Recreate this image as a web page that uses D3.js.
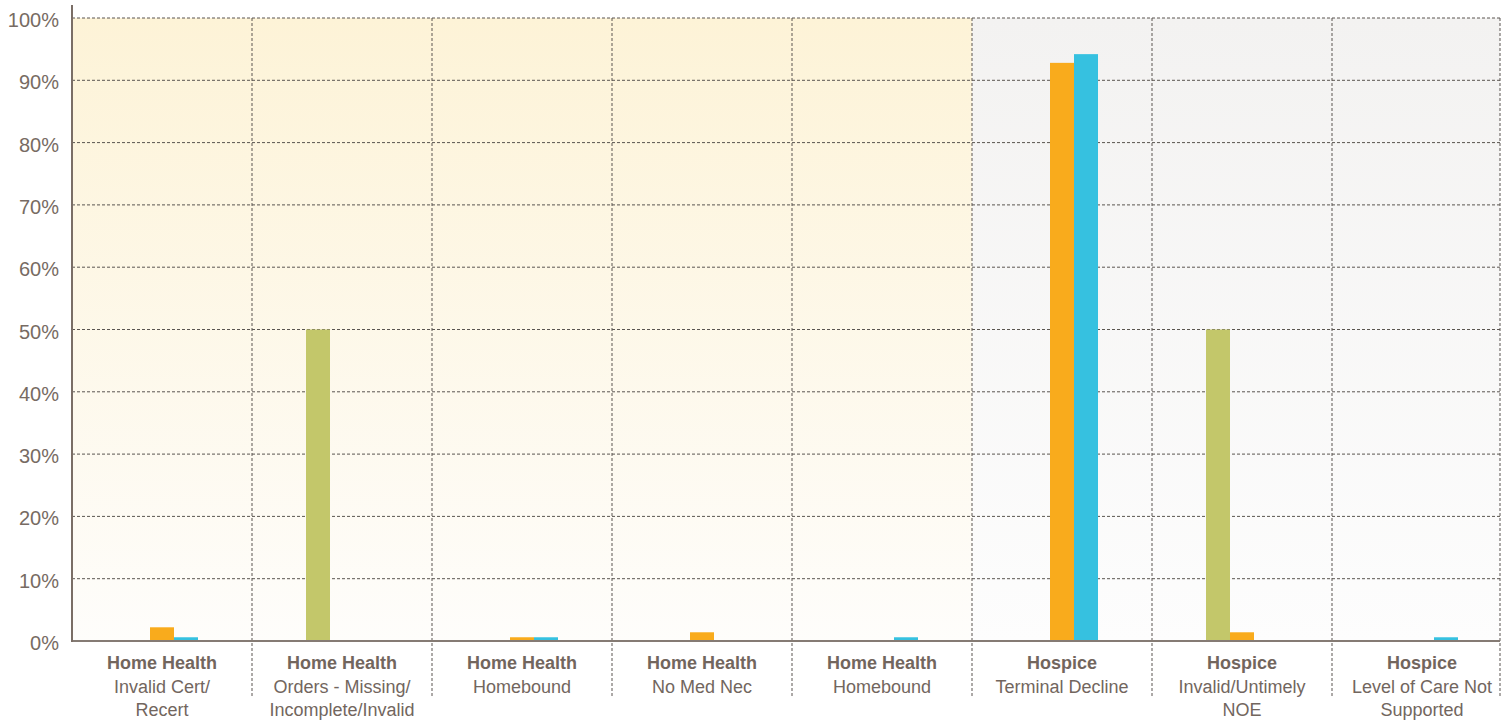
<!DOCTYPE html>
<html>
<head>
<meta charset="utf-8">
<script src="https://cdn.jsdelivr.net/npm/d3@7"></script>
<style>
  body { margin: 0; background: #ffffff; }
  text { font-family: "Liberation Sans", Arial, sans-serif; }
</style>
</head>
<body>
<svg id="chart"></svg>
<script>
// data
let groups = ["Home Health", "Home Health", "Home Health", "Home Health", "Home Health", "Hospice", "Hospice", "Hospice"]
let reasons = [["Invalid Cert/", "Recert"], ["Orders - Missing/", "Incomplete/Invalid"], ["Homebound"], ["No Med Nec"], ["Homebound"], ["Terminal Decline"], ["Invalid/Untimely", "NOE"], ["Level of Care Not", "Supported"]]
let series = ["green", "orange", "cyan"]
let greenValues = [0, 50, 0, 0, 0, 0, 50, 0]
let orangeValues = [2.2, 0, 0.6, 1.4, 0, 92.8, 1.4, 0]
let cyanValues = [0.6, 0, 0.6, 0, 0.6, 94.2, 0, 0.6]
let yTicks = [0, 10, 20, 30, 40, 50, 60, 70, 80, 90, 100]

let colors = { green: "#c3c76a", orange: "#f9ab1c", cyan: "#36c1e0" }

// set the dimensions and margins of the graph
let width = 1507
let height = 723
let plotLeft = 72
let plotTop = 18
let plotBottom = 641
let plotRight = 1500

let svg = d3.select("#chart")
    .attr("width", width)
    .attr("height", height)

let keys = d3.range(groups.length)

let x = d3.scaleBand()
    .domain(keys)
    .range([plotLeft, plotLeft + 180 * keys.length])
    .padding(0)

let xInner = d3.scaleBand()
    .domain(series)
    .range([0, x.bandwidth()])
    .paddingInner(0)
    .paddingOuter(2.25)

let y = d3.scaleLinear()
    .domain([0, 100])
    .range([plotBottom, plotTop])

// background gradients, one per group of categories
let defs = svg.append("defs")
let grads = [
    { id: "hh", top: "#fdf3d7", bottom: "#fefdfb" },
    { id: "hs", top: "#f3f2f1", bottom: "#fdfdfd" }
]
grads.forEach(function (g) {
    let lg = defs.append("linearGradient")
        .attr("id", g.id)
        .attr("x1", 0).attr("y1", 0).attr("x2", 0).attr("y2", 1)
    lg.append("stop").attr("offset", "0%").attr("stop-color", g.top)
    lg.append("stop").attr("offset", "100%").attr("stop-color", g.bottom)
})

let firstHospice = groups.indexOf("Hospice")
svg.append("rect")
    .attr("x", plotLeft)
    .attr("y", y(100))
    .attr("width", x(firstHospice) - plotLeft)
    .attr("height", y(0) - y(100))
    .attr("fill", "url(#hh)")
svg.append("rect")
    .attr("x", x(firstHospice))
    .attr("y", y(100))
    .attr("width", plotRight - x(firstHospice))
    .attr("height", y(0) - y(100))
    .attr("fill", "url(#hs)")

// horizontal dashed grid
svg.selectAll(".hgrid")
    .data(yTicks.filter(d => d > 0))
    .enter()
    .append("line")
    .attr("class", "hgrid")
    .attr("x1", plotLeft)
    .attr("x2", plotRight)
    .attr("y1", d => y(d))
    .attr("y2", d => y(d))
    .attr("stroke", "#5a5550")
    .attr("stroke-width", 1)
    .attr("stroke-dasharray", "3,2")

// vertical dashed grid between categories (last one sits on the plot edge)
svg.selectAll(".vgrid")
    .data(keys)
    .enter()
    .append("line")
    .attr("class", "vgrid")
    .attr("x1", d => Math.min(x(d) + x.bandwidth(), plotRight))
    .attr("x2", d => Math.min(x(d) + x.bandwidth(), plotRight))
    .attr("y1", y(100))
    .attr("y2", 697)
    .attr("stroke", "#5a5550")
    .attr("stroke-width", 1)
    .attr("stroke-dasharray", "3,2")

// bars
let rows = []
keys.forEach(function (i) {
    rows.push({ key: i, s: "green", value: greenValues[i] })
    rows.push({ key: i, s: "orange", value: orangeValues[i] })
    rows.push({ key: i, s: "cyan", value: cyanValues[i] })
})

svg.selectAll(".bar")
    .data(rows.filter(d => d.value > 0))
    .enter()
    .append("rect")
    .attr("class", "bar")
    .attr("x", d => x(d.key) + xInner(d.s))
    .attr("width", xInner.bandwidth())
    .attr("y", d => y(d.value))
    .attr("height", d => y(0) - y(d.value))
    .attr("fill", d => colors[d.s])

// axes lines
svg.append("line")
    .attr("x1", plotLeft).attr("x2", plotRight)
    .attr("y1", y(0)).attr("y2", y(0))
    .attr("stroke", "#857b74")
    .attr("stroke-width", 2)

svg.append("line")
    .attr("x1", plotLeft).attr("x2", plotLeft)
    .attr("y1", 5).attr("y2", y(0) + 1)
    .attr("stroke", "#7a6e66")
    .attr("stroke-width", 2)

// y tick labels
svg.selectAll(".ytick")
    .data(yTicks)
    .enter()
    .append("text")
    .attr("class", "ytick")
    .attr("x", 59)
    .attr("y", d => y(d) + 2)
    .attr("dy", "0.35em")
    .style("text-anchor", "end")
    .style("font-size", "20px")
    .style("fill", "#776b63")
    .text(d => d + "%")

// category labels: bold group name then the reason lines
let labels = svg.selectAll(".xlabel")
    .data(keys)
    .enter()
    .append("text")
    .attr("class", "xlabel")
    .attr("transform", d => "translate(" + (x(d) + x.bandwidth() / 2) + ",669)")
    .style("text-anchor", "middle")
    .style("font-size", "18px")
    .style("fill", "#72665e")

labels.append("tspan")
    .attr("x", 0)
    .attr("y", 0)
    .style("font-weight", "bold")
    .text(d => groups[d])

labels.each(function (d) {
    let t = d3.select(this)
    reasons[d].forEach(function (line, j) {
        t.append("tspan")
            .attr("x", 0)
            .attr("y", 24 + j * 23)
            .text(line)
    })
})
</script>
</body>
</html>
